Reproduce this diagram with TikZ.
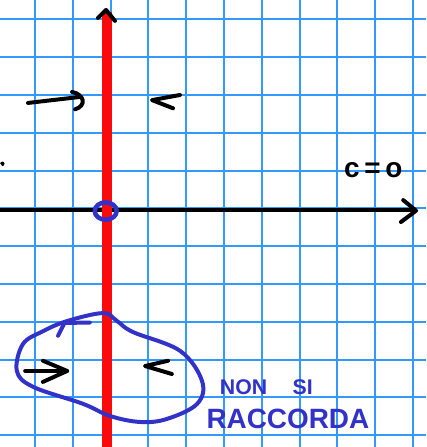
\documentclass[tikz,border=0pt]{standalone}
\usepackage{fontspec}
\setsansfont{Liberation Sans}
\usepackage{xcolor}
\usepackage{tikz}
\usetikzlibrary{arrows.meta, positioning, calc}

\definecolor{gridblue}{RGB}{51,153,255}
\definecolor{penblue}{RGB}{50,50,200}
\definecolor{penred}{RGB}{250,10,10}

\tikzset{
    gridline/.style={draw=gridblue, line width=1.5pt},
    pen/.style={draw=black, line width=3pt, line cap=round, line join=round},
    bluepen/.style={draw=penblue, line width=3pt, line cap=round, line join=round},
}

\begin{document}
\begin{tikzpicture}
    \useasboundingbox (-2.926, -6.312) rectangle (8.344, 5.513);
    \fill[white] (-2.926, -6.312) rectangle (8.344, 5.513);

    % 网格
    \draw[gridline, step=1] (-2.926, -6.312) grid (8.344, 5.513);

    % 坐标轴
    \draw[black, line width=3.2pt] (-2.926, -0.04) -- (8.05, -0.04);
    \draw[pen] (7.74, 0.22) -- (8.08, -0.06) -- (7.68, -0.36);

    % 红线
    \draw[penred, line width=6.8pt] (-0.095, 5.2) -- (-0.095, -6.312);
    \draw[pen] (-0.334, 5.04) -- (-0.12, 5.25) -- (0.116, 4.96);

    % 原点
    \draw[bluepen, line width=3.4pt] (-0.13, -0.07) ellipse (0.29 and 0.23);
    \fill[black] (-2.926, 1.2) -- ++(0.06, 0.04) arc (90:-90:0.06) -- cycle;

    % 上方箭头
    \draw[pen] (-2.185, 2.79) -- (-0.80, 2.95);
    \draw[pen] (-1.02, 3.08) .. controls (-0.70, 3.02) and (-0.62, 2.72) .. (-0.94, 2.62);
    \draw[pen] (1.836, 3.0) -- (1.095, 2.865) -- (1.65, 2.65);
    \node[font=\sffamily\bfseries\fontsize{21}{24}\selectfont] (czero) at (6.95, 1.0) {c\,=\,o};

    % 闭曲线
    \draw[bluepen] plot[smooth cycle, tension=0.6] coordinates {
        (-0.20, -2.77) (0.17, -2.98) (0.59, -3.27) (1.84, -3.77) (2.42, -4.57)
        (2.29, -5.17) (1.49, -5.57) (0.78, -5.65) (-0.02, -5.49) (-0.73, -5.17)
        (-2.05, -4.72) (-2.48, -4.30) (-2.32, -3.59) (-1.79, -3.25) (-1.15, -2.98)};
    \draw[bluepen] (-1.39, -3.37) -- (-1.22, -3.03) -- (-0.55, -3.02);

    % 曲线内箭头
    \draw[pen] (-2.26, -4.30) -- (-1.15, -4.30);
    \draw[pen] (-1.79, -4.03) -- (-1.15, -4.30) -- (-1.79, -4.59);
    \draw[pen] (1.52, -4.03) -- (0.91, -4.17) -- (1.62, -4.38);

    \node[text=penblue, font=\sffamily\bfseries\fontsize{16}{20}\selectfont] (nonsi) at (4.12, -4.73) {NON\hspace{1.2em}SI};
    \node[text=penblue, font=\sffamily\bfseries\fontsize{21}{26}\selectfont] (racc) at (4.69, -5.57) {RACCORDA};
\end{tikzpicture}
\end{document}
